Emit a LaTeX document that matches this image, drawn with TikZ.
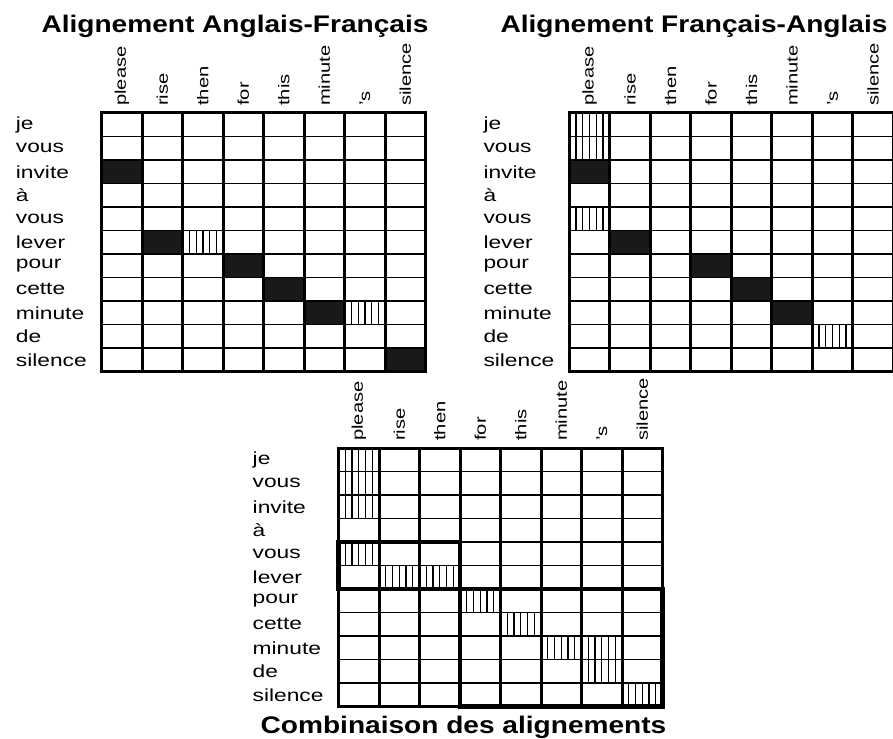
\documentclass[tikz,border=0pt]{standalone}
\usepackage{fontspec}
\setmainfont{Liberation Sans}
\newfontfamily\labfont[FakeStretch=1.3]{Liberation Sans}
\newfontfamily\ttlfont[FakeStretch=1.17]{Liberation Sans}
\usetikzlibrary{positioning}
\newcommand{\cw}{40.5}
\newcommand{\rh}{23.5}
% one alignment matrix (11 French rows x 8 English columns) at the scope origin
\newcommand{\alignmat}[1]{%
  \foreach \r in {1,...,10} {\draw[hline] (0,{\r*\rh}) -- ({8*\cw},{\r*\rh});}
  \foreach \c in {1,...,7} {\draw[vline] ({\c*\cw},0) -- ({\c*\cw},{11*\rh});}
  \draw[vline] (0,0) rectangle ({8*\cw},{11*\rh});
  \foreach \w [count=\i from 0] in {je,vous,invite,à,vous,lever,pour,cette,minute,de,silence}
    {\node[rowlab] (#1r\i) at (-86,{(\i+0.5)*\rh}) {\w};}
  \foreach \w [count=\i from 0] in {please,rise,then,for,this,minute,’s,silence}
    {\node[collab] (#1c\i) at ({(\i+0.5)*\cw},-7) {\w};}
}
\newcommand{\blk}[2]{\fill[cellfill] ({#1*\cw},{#2*\rh}) rectangle ++(\cw,\rh);}
\newcommand{\htch}[2]{\foreach \k in {1,...,5} {\draw[hatch] ({(#1+\k/6)*\cw},{#2*\rh}) -- ++(0,\rh);}}

\begin{document}
\begin{tikzpicture}[x=1pt,y=-1pt,
  rowlab/.style={font=\labfont\fontsize{17.5}{17.5}\selectfont,anchor=west,inner sep=0pt},
  collab/.style={font=\labfont\fontsize{15.5}{15.5}\selectfont,rotate=90,anchor=west,inner sep=0pt},
  ttl/.style={font=\ttlfont\bfseries\fontsize{24}{24}\selectfont,anchor=base,inner sep=0pt},
  cellfill/.style={fill=black!90},
  hatch/.style={line width=1.3pt},
  hline/.style={line width=1.4pt},
  vline/.style={line width=3pt},
  block/.style={line width=4.5pt}]
\useasboundingbox (0,0) rectangle (893,738);
% titles
\node[ttl] (ttlEF) at (235,33) {Alignement Anglais-Français};
\node[ttl] (ttlFE) at (694,33) {Alignement Français-Anglais};
\node[ttl] (ttlComb) at (463.5,733) {Combinaison des alignements};
% Anglais-Francais
\begin{scope}[shift={(101.7,113)}]
  \foreach \c/\r in {0/2,1/5,3/6,4/7,5/8,7/10} {\blk{\c}{\r}}
  \foreach \c/\r in {2/5,6/8} {\htch{\c}{\r}}
  \alignmat{ef}
\end{scope}
% Francais-Anglais
\begin{scope}[shift={(569.3,113)}]
  \foreach \c/\r in {0/2,1/5,3/6,4/7,5/8} {\blk{\c}{\r}}
  \foreach \c/\r in {0/0,0/1,0/4,6/9} {\htch{\c}{\r}}
  \alignmat{fe}
\end{scope}
% combination
\begin{scope}[shift={(338.5,448)}]
  \foreach \c/\r in {0/0,0/1,0/2,0/4,1/5,2/5,3/6,4/7,5/8,6/8,6/9,7/10} {\htch{\c}{\r}}
  \alignmat{cb}
  \draw[block] (0,{4*\rh}) rectangle ({3*\cw},{6*\rh});
  \draw[block] ({3*\cw},{6*\rh}) rectangle ({8*\cw},{11*\rh});
\end{scope}
\end{tikzpicture}
\end{document}
